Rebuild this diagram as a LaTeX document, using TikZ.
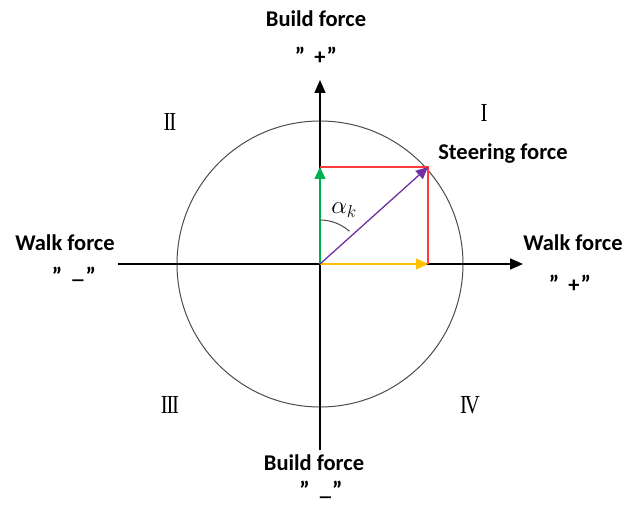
\documentclass[tikz,border=0pt]{standalone}
\usepackage{fontspec}
\setmainfont{Carlito}
\newfontfamily\romanfont{Liberation Serif}
\usetikzlibrary{arrows.meta,calc}
\definecolor{cgreen}{RGB}{0,176,80}
\definecolor{cred}{RGB}{255,60,60}
\definecolor{cpurple}{RGB}{112,48,160}
\definecolor{cyellow}{RGB}{255,192,0}
\newcommand{\qq}{{\fontsize{24}{24}\selectfont ”}}
\newcommand{\qlow}{\raisebox{-6pt}[\height][0pt]{\qq}}
\newcommand{\qmid}{\raisebox{-3pt}[\height][0pt]{\qq}}
\begin{document}
\begin{tikzpicture}[x=1pt,y=-1pt,
  lbl/.style={font=\fontsize{22.5}{26}\selectfont\bfseries, inner sep=0pt},
  sgn/.style={font=\fontsize{22.5}{26}\selectfont\bfseries, inner sep=0pt, anchor=base},
  quad/.style={font=\romanfont\fontsize{26}{30}\selectfont, inner sep=0pt, xscale=0.8},
  axis/.style={line width=1.4pt, black, -{Triangle[length=13pt,width=11pt]}},
  vec/.style={line width=1.3pt, -{Triangle[length=12pt,width=11pt]}}]
\useasboundingbox (0,0) rectangle (635,505);
\coordinate (O) at (320,264);
\coordinate (Xl) at (118,264);
\coordinate (Xr) at (523,264);
\coordinate (Yb) at (320,450);
\coordinate (Yt) at (320,80);
\coordinate (P) at (428,167);
\coordinate (Px) at (428,264);
\coordinate (Py) at (320,167);
% circle
\draw[line width=1pt, black!70] (O) circle [radius=143];
% axes
\draw[axis] (Xl) -- (Xr);
\draw[axis] (Yb) -- (Yt);
% red rectangle sides
\draw[cred, line width=1.1pt] (Py) -- (P) -- (Px);
% vectors
\draw[vec, cgreen] (O) -- (Py);
\draw[vec, cyellow] (O) -- (Px);
\draw[vec, cpurple] (O) -- (P);
% angle arc
\draw[line width=1pt, black!70] ($(O)+(0,-44)$) arc [start angle=-90, end angle=-48, radius=44];
\node[font=\fontsize{24}{28}\selectfont, inner sep=0pt] (alpha) at (344,210) {$\alpha_{\scriptstyle k}$};
% labels
\node[lbl] (bt) at (316,19) {Build force};
\node[sgn] (btq) at (316,65) {\qq\hspace{9pt}+\hspace{1pt}\qq};
\node[lbl] (bb) at (314,463) {Build force};
\node[sgn] (bbq) at (321,495) {\qmid\hspace{10pt}\_\hspace{1pt}\qmid};
\node[lbl] (wl) at (65,243) {Walk force};
\node[sgn] (wlq) at (74,279) {\qlow\hspace{10pt}\_\hspace{2pt}\qlow};
\node[lbl] (wr) at (573,243) {Walk force};
\node[sgn] (wrq) at (570,293) {\qq\hspace{9pt}+\hspace{1pt}\qq};
\node[lbl] (sf) at (503,154) {Steering force};
% quadrant numerals
\node[quad] (q1) at (484,113) {I};
\node[quad] (q2) at (170,122) {I\kern-0.06em I};
\node[quad] (q3) at (170,405) {I\kern-0.06em I\kern-0.06em I};
\node[quad] (q4) at (470,405) {I\kern-0.1em V};
\end{tikzpicture}
\end{document}
